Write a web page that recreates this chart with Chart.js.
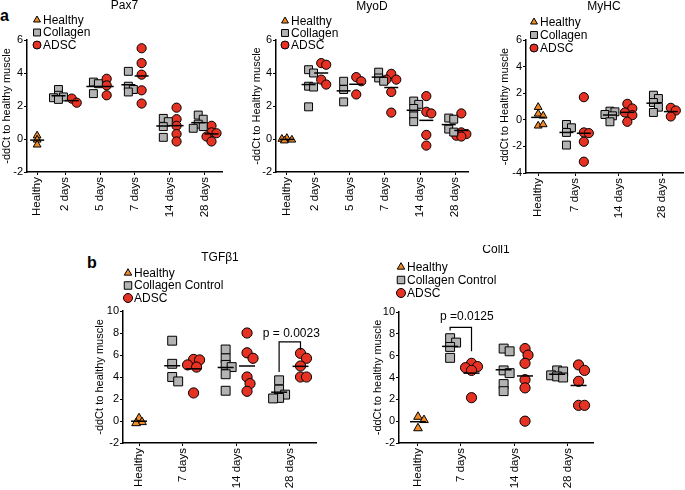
<!DOCTYPE html>
<html>
<head>
<meta charset="utf-8">
<script src="https://cdn.jsdelivr.net/npm/chart.js@4.4.1/dist/chart.umd.min.js"></script>
<style>
  body { margin: 0; background: #fff; width: 685px; height: 490px; position: relative; overflow: hidden;
         font-family: "Liberation Sans", Arial, Helvetica, sans-serif; }
  canvas { position: absolute; }
  .tag { position: absolute; font-weight: bold; font-size: 16px; line-height: 16px; }
</style>
</head>
<body>
<div class="tag" style="left:0px;top:8px">a</div>
<div class="tag" style="left:87px;top:255px">b</div>
<canvas id="pax7"></canvas>
<canvas id="myod"></canvas>
<canvas id="myhc"></canvas>
<canvas id="tgf"></canvas>
<canvas id="coll"></canvas>
<script>
const FONT = '"Liberation Sans", Arial, Helvetica, sans-serif';
const ORANGE = '#f08a24';
const GREY = '#b3b3b3';
const RED = '#e63222';

// ---- values (-ddCt) ----
const pax7Days = ['2 days', '5 days', '7 days', '14 days', '28 days'];
const pax7Healthy = [0.2, -0.05, -0.35];
const pax7Collagen = [[3.0, 2.65, 2.55, 2.5, 2.4], [3.45, 3.35, 2.75], [4.1, 3.2, 3.0, 2.85],
                      [1.25, 1.05, 0.75, 0.1], [1.45, 1.2, 0.9, 0.75, 0.65]];
const pax7Adsc = [[2.45, 2.2], [3.65, 3.25, 2.65], [5.5, 4.6, 3.9, 2.95, 2.15],
                  [1.9, 1.2, 0.8, 0.3, -0.15], [0.8, 0.4, 0.35, 0.15, -0.15]];

const myodDays = ['2 days', '5 days', '7 days', '14 days', '28 days'];
const myodHealthy = [0.05, -0.05, 0.0, -0.1];
const myodCollagen = [[4.2, 4.0, 3.2, 3.15, 1.95], [3.5, 3.0, 2.25], [4.05, 3.7, 3.5],
                      [2.3, 2.1, 1.85, 1.4, 1.05], [1.27, 1.2, 0.6, 0.42]];
const myodAdsc = [[4.6, 4.5, 3.6, 3.3], [3.75, 3.5, 2.7], [3.95, 3.6, 3.6, 2.85, 1.6],
                  [2.6, 1.65, 1.55, 0.25, -0.4], [1.55, 0.4, 0.3, 0.2, 0.15]];

const myhcDays = ['7 days', '14 days', '28 days'];
const myhcHealthy = [0.95, 0.45, 0.3, -0.45, -0.35];
const myhcCollagen = [[-0.35, -0.6, -0.95, -1.9], [0.65, 0.6, 0.4, 0.3, -0.15], [1.85, 1.6, 1.3, 0.95, 0.55]];
const myhcAdsc = [[1.7, -0.95, -1.0, -1.65, -3.15], [1.2, 0.85, 0.55, 0.35, -0.15], [0.9, 0.7, 0.25]];

const tgfDays = ['7 days', '14 days', '28 days'];
const tgfHealthy = [0.25, -0.1, -0.2];
const tgfCollagen = [[7.3, 5.2, 4.0, 3.6], [6.5, 5.7, 5.1, 4.9, 4.25, 2.75], [3.7, 2.85, 2.4, 2.1, 2.05]];
const tgfAdsc = [[5.6, 5.55, 5.1, 4.9, 2.55], [8.0, 6.2, 5.7, 4.0, 3.4, 2.7], [6.15, 5.7, 5.0, 4.0, 4.0]];

const collDays = ['7 days', '14 days', '28 days'];
const collHealthy = [0.4, 0.1, -0.65];
const collCollagen = [[7.6, 7.2, 6.8, 5.8], [6.65, 6.4, 4.65, 4.4, 3.4, 2.75], [4.65, 4.55, 4.2, 4.1, 4.0]];
const collAdsc = [[5.3, 5.0, 4.9, 4.65, 2.15], [6.65, 6.05, 5.3, 3.8, 3.05, 0.0], [5.15, 4.65, 3.65, 1.45, 1.45]];

const topLegend = ['Healthy', 'Collagen', 'ADSC'];
const bottomLegend = ['Healthy', 'Collagen Control', 'ADSC'];

// ---- layout of the five panels (page pixels) ----
const small = { tri: 4.5, rect: 5.6, circ: 4.6, lTri: 4, lRect: 4.9, lCirc: 4, hw: 7, spread: 5 };
const big = { tri: 5, rect: 6.3, circ: 5.1, lTri: 4.3, lRect: 5.3, lCirc: 4.5, hw: 8, spread: 6 };

const panels = [
  { id: 'pax7', title: 'Pax7', yTitle: '-ddCt to healthy muscle', legend: topLegend,
    days: pax7Days, healthy: pax7Healthy, collagen: pax7Collagen, adsc: pax7Adsc,
    yMin: -2, yMax: 6, xMin: -0.29, xMax: 5.29, firstGap: 0.8, colOff: 0.19,
    area: { l: 27, t: 40, r: 222, b: 172 }, canvas: { x: 0, y: 0, w: 228, h: 228 }, yAxisW: 27, xAxisH: 50,
    titlePos: [124.5, 6], legendPos: [37, 20, 12.5], size: small },
  { id: 'myod', title: 'MyoD', yTitle: '-ddCt to Healthy muscle', legend: topLegend,
    days: myodDays, healthy: myodHealthy, collagen: myodCollagen, adsc: myodAdsc,
    yMin: -2, yMax: 6, xMin: -0.31, xMax: 5.17, firstGap: 0.8, colOff: 0.18,
    area: { l: 276, t: 40, r: 468, b: 172 }, canvas: { x: 240, y: 0, w: 235, h: 228 }, yAxisW: 26, xAxisH: 50,
    titlePos: [372, 6.5], legendPos: [285, 21, 12], size: small },
  { id: 'myhc', title: 'MyHC', yTitle: '-ddCt to Healthy muscle', legend: topLegend,
    days: myhcDays, healthy: myhcHealthy, collagen: myhcCollagen, adsc: myhcAdsc,
    yMin: -4, yMax: 6, xMin: -0.28, xMax: 3.33, firstGap: 0.85, colOff: 0.2,
    area: { l: 526, t: 40, r: 683, b: 173 }, canvas: { x: 488, y: 0, w: 197, h: 228 }, yAxisW: 28, xAxisH: 50,
    titlePos: [604, 7], legendPos: [534, 22, 13], size: small },
  { id: 'tgf', title: 'TGFβ1', yTitle: '-ddCt to healthy muscle', legend: bottomLegend,
    days: tgfDays, healthy: tgfHealthy, collagen: tgfCollagen, adsc: tgfAdsc,
    yMin: -2, yMax: 10, xMin: -0.3, xMax: 3.31, firstGap: 0.82, colOff: 0.2,
    area: { l: 123, t: 311, r: 316, b: 443 }, canvas: { x: 80, y: 245, w: 245, h: 245 }, yAxisW: 30, xAxisH: 45,
    titlePos: [220, 258], legendPos: [128, 273, 12.5], size: big,
    bracket: { group: 3, yLeft: 4.45, yTop: 7.2, yRight: 6.45, text: 'p = 0.0023', textY: 7.9, textDx: 1.5 } },
  { id: 'coll', title: 'Coll1', yTitle: '-ddCt to healthy muscle', legend: bottomLegend,
    days: collDays, healthy: collHealthy, collagen: collCollagen, adsc: collAdsc,
    yMin: -2, yMax: 10, xMin: -0.355, xMax: 3.27, firstGap: 0.8, colOff: 0.2,
    area: { l: 399, t: 312, r: 593, b: 443 }, canvas: { x: 360, y: 245, w: 245, h: 245 }, yAxisW: 28, xAxisH: 45,
    titlePos: [496, 250], legendPos: [401, 267, 13], size: big,
    bracket: { group: 1, yLeft: 8.3, yTop: 8.6, yRight: 6.4, text: 'p =0.0125', textY: 9.6, textDx: 6 } }
];

Chart.defaults.font.family = FONT;
Chart.defaults.color = '#000';

const mean = a => a.reduce((s, v) => s + v, 0) / a.length;

// spread overlapping points sideways within +-maxOff pixels (dot-plot style)
function swarm(values, colX, pxX, pxY, d, maxOff) {
  const placed = [];
  const step = maxOff / 2;
  const cand = [0, step, -step, 2 * step, -2 * step];
  return values.map(v => {
    const yy = v * pxY;
    let best = 0, bestDist = -1;
    for (const off of cand) {
      const dist = placed.reduce((m, q) => Math.min(m, Math.hypot(q.x - off, q.y - yy)), Infinity);
      if (dist >= d * 0.7) { best = off; break; }
      if (dist > bestDist) { bestDist = dist; best = off; }
    }
    placed.push({ x: best, y: yy });
    return { x: colX + best / pxX, y: v };
  });
}

function drawMarker(ctx, shape, x, y, r, color) {
  ctx.beginPath();
  if (shape === 'triangle') {
    ctx.moveTo(x, y - r);
    ctx.lineTo(x + r * 0.866, y + r * 0.5);
    ctx.lineTo(x - r * 0.866, y + r * 0.5);
    ctx.closePath();
  } else if (shape === 'rect') {
    const s = r * Math.SQRT1_2;
    ctx.rect(x - s, y - s, 2 * s, 2 * s);
  } else {
    ctx.arc(x, y, r, 0, Math.PI * 2);
  }
  ctx.fillStyle = color;
  ctx.fill();
  ctx.lineWidth = 1;
  ctx.strokeStyle = '#000';
  ctx.stroke();
}

function makePanel(p) {
  const cv = document.getElementById(p.id);
  cv.style.left = p.canvas.x + 'px';
  cv.style.top = p.canvas.y + 'px';
  cv.width = p.canvas.w;
  cv.height = p.canvas.h;

  const centers = [0];
  p.days.forEach((d, i) => centers.push(i + p.firstGap));
  const labels = ['Healthy'].concat(p.days);

  const pxX = (p.area.r - p.area.l) / (p.xMax - p.xMin);
  const pxY = (p.area.b - p.area.t) / (p.yMax - p.yMin);
  const sz = p.size;

  const cols = [{ x: 0, values: p.healthy }];
  const healthyPts = swarm(p.healthy, 0, pxX, pxY, sz.tri * 1.3, sz.spread);
  const colPts = [], adscPts = [];
  p.days.forEach((d, i) => {
    const cx = centers[i + 1];
    colPts.push(...swarm(p.collagen[i], cx - p.colOff, pxX, pxY, sz.rect * 1.41, sz.spread));
    adscPts.push(...swarm(p.adsc[i], cx + p.colOff, pxX, pxY, sz.circ * 2, sz.spread));
    cols.push({ x: cx - p.colOff, values: p.collagen[i] });
    cols.push({ x: cx + p.colOff, values: p.adsc[i] });
  });

  const ds = (label, data, style, r, color) => ({
    label, data, clip: false, showLine: false,
    pointStyle: style, pointRadius: r, pointHoverRadius: r,
    pointBackgroundColor: color, pointBorderColor: '#000', pointBorderWidth: 1
  });

  const deco = {
    id: 'deco',
    afterDatasetsDraw(chart) {
      const { ctx, scales: { x, y } } = chart;
      ctx.save();
      ctx.strokeStyle = '#000';
      ctx.lineWidth = 1.5;
      cols.forEach(c => {
        const px = x.getPixelForValue(c.x);
        const py = y.getPixelForValue(mean(c.values));
        ctx.beginPath();
        ctx.moveTo(px - sz.hw, py);
        ctx.lineTo(px + sz.hw, py);
        ctx.stroke();
      });
      const b = p.bracket;
      if (b) {
        const xl = x.getPixelForValue(centers[b.group] - p.colOff);
        const xr = x.getPixelForValue(centers[b.group] + p.colOff);
        ctx.lineWidth = 1.2;
        ctx.beginPath();
        ctx.moveTo(xl, y.getPixelForValue(b.yLeft));
        ctx.lineTo(xl, y.getPixelForValue(b.yTop));
        ctx.lineTo(xr, y.getPixelForValue(b.yTop));
        ctx.lineTo(xr, y.getPixelForValue(b.yRight));
        ctx.stroke();
        ctx.fillStyle = '#000';
        ctx.font = '12px ' + FONT;
        ctx.textAlign = 'center';
        ctx.textBaseline = 'middle';
        ctx.fillText(b.text, (xl + xr) / 2 + b.textDx, y.getPixelForValue(b.textY));
      }
      ctx.restore();
    },
    afterDraw(chart) {
      const ctx = chart.ctx;
      const ox = p.canvas.x, oy = p.canvas.y;
      ctx.save();
      ctx.fillStyle = '#000';
      ctx.font = '12px ' + FONT;
      ctx.textAlign = 'center';
      ctx.textBaseline = 'middle';
      ctx.fillText(p.title, p.titlePos[0] - ox, p.titlePos[1] - oy);
      const [lx, ly, dy] = p.legendPos;
      const marks = [['triangle', sz.lTri, ORANGE], ['rect', sz.lRect, GREY], ['circle', sz.lCirc, RED]];
      marks.forEach((m, i) => {
        const cx = lx - ox, cy = ly + i * dy - oy;
        drawMarker(ctx, m[0], cx, cy, m[1], m[2]);
        ctx.fillStyle = '#000';
        ctx.textAlign = 'left';
        ctx.fillText(p.legend[i], cx + 6, cy + 0.5);
      });
      ctx.restore();
    }
  };

  new Chart(cv, {
    type: 'scatter',
    data: {
      datasets: [
        ds(p.legend[0], healthyPts, 'triangle', sz.tri, ORANGE),
        ds(p.legend[1], colPts, 'rect', sz.rect, GREY),
        ds(p.legend[2], adscPts, 'circle', sz.circ, RED)
      ]
    },
    options: {
      responsive: false,
      animation: false,
      events: [],
      layout: {
        autoPadding: false,
        padding: {
          left: p.area.l - p.canvas.x - p.yAxisW,
          top: p.area.t - p.canvas.y,
          right: p.canvas.x + p.canvas.w - p.area.r,
          bottom: p.canvas.y + p.canvas.h - p.area.b - p.xAxisH
        }
      },
      plugins: { legend: { display: false }, title: { display: false }, tooltip: { enabled: false } },
      scales: {
        x: {
          type: 'linear', min: p.xMin, max: p.xMax,
          afterBuildTicks: s => { s.ticks = centers.map(v => ({ value: v })); },
          afterFit: s => { s.height = p.xAxisH; },
          ticks: { autoSkip: false, minRotation: 90, maxRotation: 90, padding: 2,
                   font: { size: 11.5 }, color: '#000', callback: (v, i) => labels[i] },
          grid: { drawOnChartArea: false, drawTicks: true, tickLength: 3, color: '#000', lineWidth: 1 },
          border: { display: true, color: '#000', width: 1.5 }
        },
        y: {
          min: p.yMin, max: p.yMax,
          afterFit: s => { s.width = p.yAxisW; },
          ticks: { stepSize: 2, padding: 1, font: { size: 11 }, color: '#000' },
          grid: { drawOnChartArea: false, drawTicks: true, tickLength: 3, color: '#000', lineWidth: 1 },
          border: { display: true, color: '#000', width: 1.5 },
          title: { display: true, text: p.yTitle, padding: 0, font: { size: 11 }, color: '#000' }
        }
      }
    },
    plugins: [deco]
  });
}

panels.forEach(makePanel);
</script>
</body>
</html>
